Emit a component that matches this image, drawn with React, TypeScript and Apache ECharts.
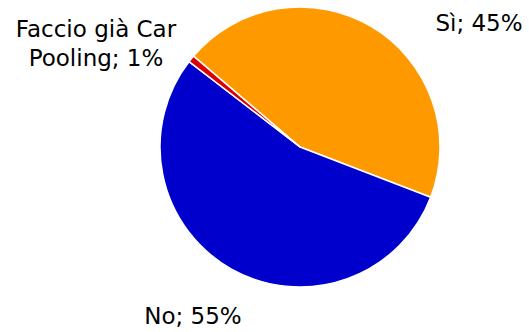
import React, { useEffect, useRef } from "react";
import * as echarts from "echarts";

const categories = ["Sì", "No", "Faccio già Car Pooling"];
const values = [44.6, 54.6, 0.8];
const colors = ["#FF9900", "#0000CC", "#DD0000"];
// label anchor positions (px) for each slice label
const labelPos = [
  [479, 23],
  [193, 316],
  [96, 43],
];

export default function App() {
  const ref = useRef<HTMLDivElement>(null);
  useEffect(() => {
    document.body.style.margin = "0";
    const chart = echarts.init(ref.current!, null, { renderer: "svg" });
    chart.setOption({
      animation: false,
      backgroundColor: "#ffffff",
      series: [
        {
          type: "pie",
          center: [300, 147],
          radius: 140,
          startAngle: 139.5,
          clockwise: true,
          avoidLabelOverlap: false,
          data: categories.map((c, i) => ({
            name: c,
            value: values[i],
            itemStyle: { color: colors[i] },
          })),
          itemStyle: { borderColor: "#ffffff", borderWidth: 1.5 },
          label: {
            show: true,
            position: "outside",
            fontFamily: "DejaVu Sans",
            fontSize: 23,
            color: "#000000",
            lineHeight: 29,
            align: "center",
            formatter: (p: any) => {
              const name =
                p.dataIndex === 2 ? "Faccio già Car\nPooling" : p.name;
              return `${name}; ${Math.round(p.percent)}%`;
            },
          },
          labelLine: { show: false },
          labelLayout: (p: any) => ({
            x: labelPos[p.dataIndex][0],
            y: labelPos[p.dataIndex][1],
            align: "center",
            verticalAlign: "middle",
          }),
          emphasis: { disabled: true },
        },
      ],
    });
    return () => chart.dispose();
  }, []);
  return <div ref={ref} style={{ width: 529, height: 332 }} />;
}
